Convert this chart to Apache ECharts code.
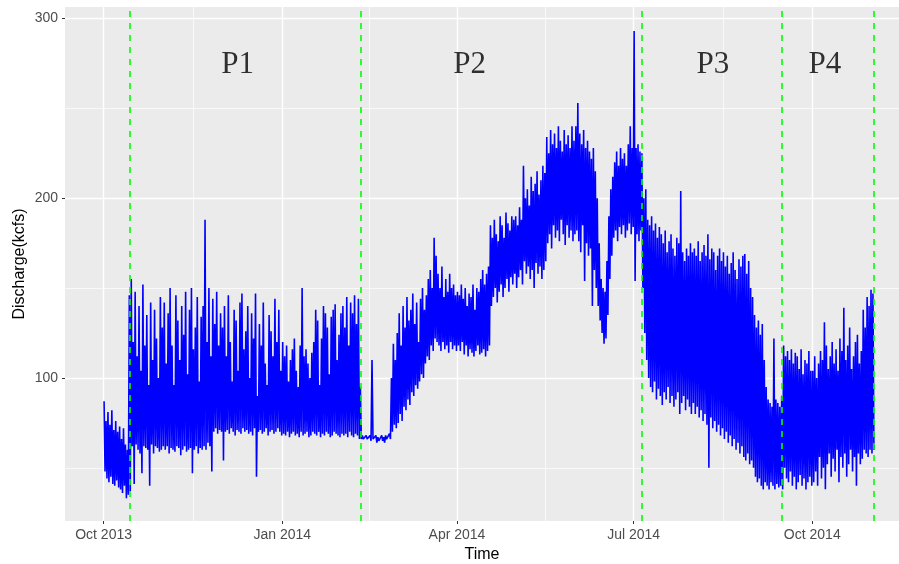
<!DOCTYPE html>
<html><head><meta charset="utf-8">
<script src="https://cdn.jsdelivr.net/npm/echarts@6/dist/echarts.min.js"></script>
<style>html,body{margin:0;padding:0;background:#fff}#c{width:899px;height:564px}</style>
</head><body><div id="c"></div>
<script>
// ---- data: daily high / low discharge (kcfs) ----
const startDate = '2013-10-01';
const highOct2013 = [87,76,81,74,82,71,76,70,73,66,72,63,60,146,155,120,148,112,140,104,152,118,135,96,142,110,138,122,100,145,128];
const lowOct2013  = [48,44,42,45,41,40,43,39,38,36,40,33,35,37,62,41,63,60,58,47,62,61,60,40,63,58,62,61,59,60,62];
const highNov2013 = [142,108,136,150,118,96,146,132,110,140,124,148,102,138,150,116,128,145,98,134,140,188,120,150,112,144,130,148,118,136];
const lowNov2013  = [60,62,58,61,60,59,62,61,57,60,62,59,60,61,47,60,62,58,61,60,62,60,64,62,48,70,72,69,71,70];
const highDec2013 = [128,140,112,146,120,98,138,132,104,142,147,116,126,140,100,136,122,147,90,130,118,142,108,96,135,126,112,144,120,138,104];
const lowDec2013  = [54,70,71,69,72,70,68,71,70,69,72,70,71,69,70,68,72,45,70,71,69,70,72,68,70,71,69,70,72,70,68];
const highJan2014 = [120,112,118,98,110,116,122,104,95,118,150,112,116,108,100,114,120,138,132,96,122,140,136,128,102,134,138,141,110,124,136];
const lowJan2014  = [69,68,70,67,69,70,68,69,67,70,68,69,70,67,68,70,69,68,70,67,69,68,70,69,67,68,70,69,68,67,69];
const highFeb2014 = [140,128,145,118,142,136,146,130,144,95,68,67,68,67,68,110,67,68,67,66,68,67,68,67,69,100,119,110];
const lowFeb2014  = [68,69,67,70,68,67,69,68,66,66,66,65,66,66,65,66,65,64,65,66,65,64,66,65,66,70,74,72];
const highMar2014 = [125,136,118,140,128,145,132,138,147,130,142,120,144,150,138,146,155,160,150,178,168,158,150,162,145,155,148,158,150,152,146];
const lowMar2014  = [75,80,76,84,82,88,85,92,90,96,94,98,102,100,108,112,110,118,115,122,120,118,115,120,116,118,114,120,116,118,115];
const highApr2014 = [148,146,152,144,150,140,147,145,152,138,150,148,155,160,152,158,162,185,178,188,180,176,190,185,178,192,186,182,190,188];
const lowApr2014  = [118,115,120,113,118,112,116,114,112,115,118,113,114,116,112,115,118,140,145,150,142,148,152,145,150,155,148,156,152,158];
const highMay2014 = [190,185,195,188,218,200,205,196,212,204,208,215,202,210,218,214,234,225,238,230,236,228,240,232,226,238,230,235,228,240,232];
const lowMay2014  = [150,156,160,152,165,158,162,155,160,150,164,158,162,155,160,165,175,180,172,185,178,182,176,188,180,174,185,178,182,176,180];
const highJun2014 = [240,253,236,230,238,228,232,226,222,228,215,200,175,155,150,148,165,190,205,212,220,226,218,228,222,225,218,230,240,228];
const lowJun2014  = [182,176,170,185,154,175,168,172,140,160,150,140,132,125,119,122,135,155,168,178,182,176,184,180,185,178,182,186,180,184];
const highJul2014 = [293,228,230,226,225,200,205,188,185,190,182,186,178,184,180,175,182,170,176,180,172,168,178,175,204,170,165,172,168,175,170];
const lowJul2014  = [154,180,176,182,150,125,110,100,95,92,98,88,94,90,85,92,88,95,86,90,84,88,92,80,86,90,82,88,84,80,86];
const highAug2014 = [172,168,176,165,170,174,168,180,166,172,170,160,168,172,165,170,162,168,158,164,170,160,155,166,162,168,169,158,165,150,145];
const lowAug2014  = [80,84,78,82,76,80,74,50,78,72,76,70,74,68,72,66,70,64,68,62,66,60,64,58,62,56,54,58,52,54,50];
const highSep2014 = [135,128,132,124,130,110,95,88,86,84,122,88,86,84,90,118,112,115,110,116,108,114,112,105,116,102,110,108,115,104];
const lowSep2014  = [45,42,44,40,38,42,40,38,42,40,38,41,39,40,38,50,44,42,48,40,45,38,42,46,40,44,38,42,45,40];
const highOct2014 = [104,112,100,108,115,110,131,118,105,112,120,108,116,104,122,115,139,110,118,128,105,112,120,124,108,115,138,128,145,140,149];
const lowOct2014  = [42,48,40,56,44,50,38,52,58,45,55,48,60,42,56,50,58,45,52,60,48,56,40,58,52,55,60,58,56,60,58];
const highNov2014 = [147];
const lowNov2014  = [60];

// ---- axes / annotations ----
const xMajorDates  = ['2013-10-01','2014-01-01','2014-04-01','2014-07-01','2014-10-01'];
const xMajorLabels = ['Oct 2013','Jan 2014','Apr 2014','Jul 2014','Oct 2014'];
const xMinorDates  = ['2013-11-16','2014-02-15','2014-05-16T12:00','2014-08-16'];
const yMajorTicks  = [100,200,300];
const yMinorTicks  = [50,150,250];
const xRange = ['2013-09-11T03:00','2014-11-14T16:00'];
const yRange = [20.4, 306.4];
const periodBoundaryDates = ['2013-10-14T09:00','2014-02-10T07:00','2014-07-05T06:00','2014-09-15T05:00','2014-11-01T10:00'];
const periodLabels = ['P1','P2','P3','P4'];
const periodLabelDates = ['2013-12-09T01:00','2014-04-07T14:00','2014-08-10T19:00','2014-10-07T12:00'];
const periodLabelY = 274;

// ---- build ----
const H = 3600000, DAY = 24*H;
const ts = s => Date.parse(s.length === 10 ? s + 'T00:00:00Z' : s + ':00Z');
const highs = [].concat(highOct2013,highNov2013,highDec2013,highJan2014,highFeb2014,highMar2014,highApr2014,highMay2014,highJun2014,highJul2014,highAug2014,highSep2014,highOct2014,highNov2014);
const lows  = [].concat(lowOct2013,lowNov2013,lowDec2013,lowJan2014,lowFeb2014,lowMar2014,lowApr2014,lowMay2014,lowJun2014,lowJul2014,lowAug2014,lowSep2014,lowOct2014,lowNov2014);
const series0 = [];
const t0 = ts(startDate);
highs.forEach((h, i) => {
  const d = t0 + i * DAY;
  series0.push([d + 6*H, h]);
  series0.push([d + 18*H, lows[i]]);
});
const xMajor = xMajorDates.map(ts);
const labelFont = 'Liberation Sans, Arial, sans-serif';

const gridLines = []
  .concat(xMajor.map(v => ({xAxis: v, lineStyle: {color:'#FFFFFF', width:1.4, type:'solid'}})))
  .concat(xMinorDates.map(d => ({xAxis: ts(d), lineStyle: {color:'#FFFFFF', width:0.7, type:'solid'}})))
  .concat(yMajorTicks.map(v => ({yAxis: v, lineStyle: {color:'#FFFFFF', width:1.4, type:'solid'}})))
  .concat(yMinorTicks.map(v => ({yAxis: v, lineStyle: {color:'#FFFFFF', width:0.7, type:'solid'}})));

const chart = echarts.init(document.getElementById('c'), null, {renderer:'canvas'});
chart.setOption({
  animation: false,
  backgroundColor: '#FFFFFF',
  grid: {left:65, right:0, top:7, bottom:43, show:true, backgroundColor:'#EBEBEB', borderWidth:0,
         containLabel:false, outerBoundsMode:'none'},
  xAxis: {
    type:'value', min: ts(xRange[0]), max: ts(xRange[1]),
    splitLine:{show:false}, axisLine:{show:false},
    axisTick:{show:true, customValues: xMajor, length:3, lineStyle:{color:'#333333', width:1}},
    axisLabel:{customValues: xMajor, formatter: v => xMajorLabels[xMajor.indexOf(v)] || '', color:'#4D4D4D', fontSize:14, margin:7, fontFamily:labelFont},
    name:'Time', nameLocation:'middle', nameGap:26,
    nameTextStyle:{fontSize:16, color:'#000000', fontFamily:labelFont}
  },
  yAxis: {
    type:'value', min: yRange[0], max: yRange[1],
    splitLine:{show:false}, axisLine:{show:false},
    axisTick:{show:true, customValues: yMajorTicks, length:3, lineStyle:{color:'#333333', width:1}},
    axisLabel:{customValues: yMajorTicks, color:'#4D4D4D', fontSize:14, margin:7, fontFamily:labelFont},
    name:'Discharge(kcfs)', nameLocation:'middle', nameGap:37, nameRotate:90, nameMoveOverlap:false,
    nameTextStyle:{fontSize:16, color:'#000000', fontFamily:labelFont}
  },
  series: [
    {type:'line', data:[], silent:true, z:0, zlevel:0,
     markLine:{silent:true, z:0, symbol:['none','none'], label:{show:false}, animation:false, data: gridLines}},
    {type:'line', data: series0, showSymbol:false, sampling:null, z:3, silent:true,
     lineStyle:{color:'#0000FF', width:1.6}},
    {type:'line', data:[], silent:true, z:5,
     markLine:{silent:true, z:6, symbol:['none','none'], label:{show:false}, animation:false,
       lineStyle:{color:'#00FF00', width:1.6, type:[6,6]},
       data: periodBoundaryDates.map(d => ({xAxis: ts(d)}))}},
    {type:'scatter', z:7, silent:true, symbolSize:1, itemStyle:{color:'rgba(0,0,0,0)'},
     data: periodLabelDates.map((d,i) => ({value:[ts(d), periodLabelY], name: periodLabels[i]})),
     label:{show:true, position:'inside', formatter:'{b}', fontFamily:'Liberation Serif, Times New Roman, serif', fontSize:31, color:'#000000'}}
  ]
});
</script></body></html>
